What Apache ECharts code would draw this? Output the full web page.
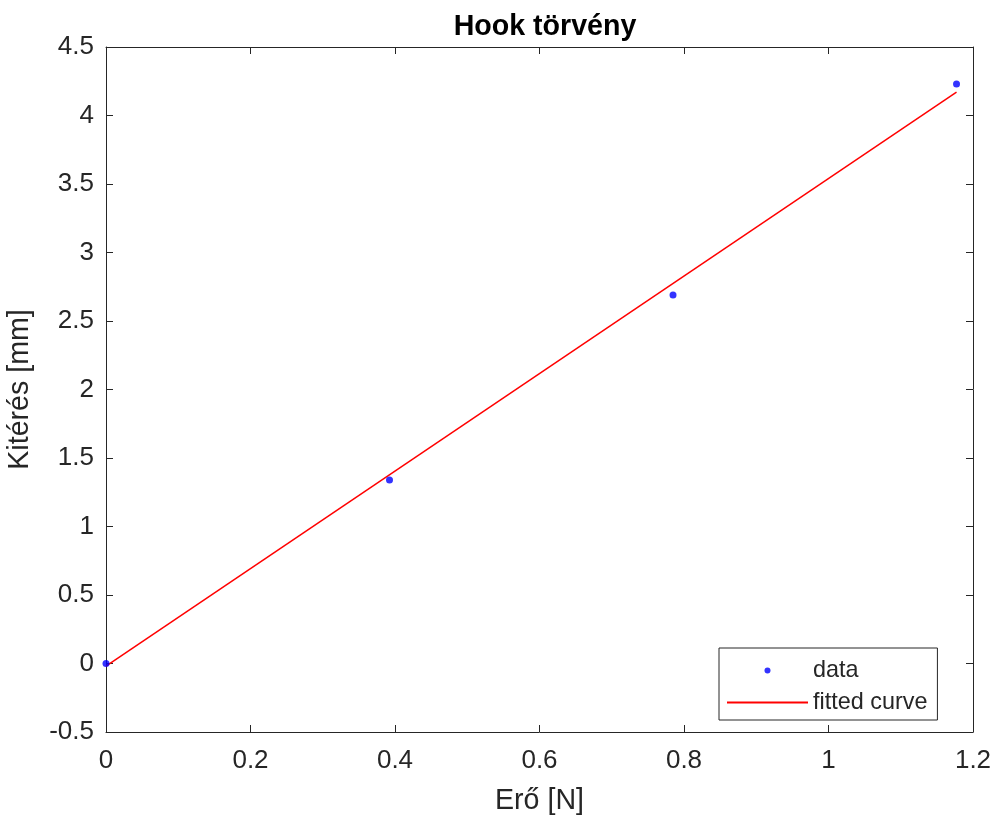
<!DOCTYPE html>
<html>
<head>
<meta charset="UTF-8">
<title>Hook törvény</title>
<script src="https://cdn.jsdelivr.net/npm/echarts@6/dist/echarts.min.js"></script>
<style>
  html, body { margin: 0; padding: 0; background: #fff; }
  #main { width: 995px; height: 819px; }
</style>
</head>
<body>
<div id="main"></div>
<script>
// mért pontok (erő N, kitérés mm)
var forceN = [0, 0.3924, 0.7848, 1.1772];
var dispMm = [0, 1.34, 2.69, 4.23];
// illesztett egyenes végpontjai
var fitX = [0, 1.1772];
var fitY = [-0.02, 4.17];

var xTicks = { min: 0, max: 1.2, step: 0.2 };
var yTicks = { min: -0.5, max: 4.5, step: 0.5 };

var axisColor = '#262626';
var font = 'Liberation Sans, Arial, Helvetica, sans-serif';

var dataPts = forceN.map(function (x, i) { return [x, dispMm[i]]; });
var fitPts = fitX.map(function (x, i) { return [x, fitY[i]]; });

var myChart = echarts.init(document.getElementById('main'));

function baseAxis(t, showLabels, margin) {
  return {
    type: 'value',
    min: t.min,
    max: t.max,
    interval: t.step,
    axisLine: { show: true, onZero: false, lineStyle: { color: axisColor, width: 1 } },
    axisTick: { show: true, inside: true, length: 7, lineStyle: { color: axisColor } },
    axisLabel: {
      show: showLabels,
      color: axisColor,
      fontFamily: font,
      fontSize: 26,
      margin: margin
    },
    splitLine: { show: false }
  };
}

var xMain = baseAxis(xTicks, true, 16);
xMain.position = 'bottom';
xMain.name = 'Erő [N]';
xMain.nameLocation = 'middle';
xMain.nameGap = 55;
xMain.nameTextStyle = { color: axisColor, fontFamily: font, fontSize: 28.6 };

var xTop = baseAxis(xTicks, false, 8);
xTop.position = 'top';

var yMain = baseAxis(yTicks, true, 12);
yMain.position = 'left';
yMain.name = 'Kitérés [mm]';
yMain.nameLocation = 'middle';
yMain.nameGap = 71;
yMain.nameTextStyle = { color: axisColor, fontFamily: font, fontSize: 28.6 };

var yRight = baseAxis(yTicks, false, 8);
yRight.position = 'right';

var option = {
  backgroundColor: '#fff',
  animation: false,
  title: {
    text: 'Hook törvény',
    left: 540,
    textAlign: 'center',
    top: 8,
    textStyle: { color: '#000', fontFamily: font, fontSize: 28.6, fontWeight: 'bold' }
  },
  grid: {
    left: 106, top: 47, right: 22, bottom: 87,
    containLabel: false,
    outerBoundsMode: 'none'
  },
  xAxis: [xMain, xTop],
  yAxis: [yMain, yRight],
  legend: {
    orient: 'vertical',
    left: 719,
    top: 648,
    itemWidth: 81,
    itemHeight: 6,
    itemGap: 9,
    padding: [11, 10, 6, 8],
    borderColor: axisColor,
    borderWidth: 1,
    backgroundColor: '#fff',
    textStyle: { color: axisColor, fontFamily: font, fontSize: 23.4 },
    data: [
      { name: 'data', icon: 'circle' },
      { name: 'fitted curve', icon: 'path://M0,0H81V2H0Z' }
    ]
  },
  series: [
    {
      name: 'data',
      type: 'scatter',
      data: dataPts,
      symbol: 'circle',
      symbolSize: 7,
      itemStyle: { color: '#0000ff' },
      z: 3
    },
    {
      name: 'fitted curve',
      type: 'line',
      data: fitPts,
      symbol: 'none',
      lineStyle: { color: '#ff0000', width: 1.5 },
      itemStyle: { color: '#ff0000' },
      z: 2
    }
  ]
};

myChart.setOption(option);
</script>
</body>
</html>
